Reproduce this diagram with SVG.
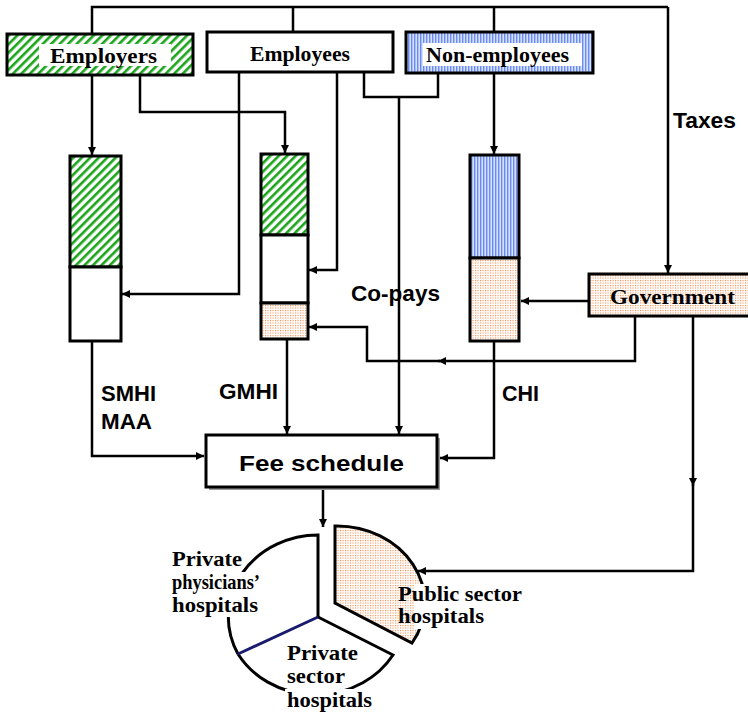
<svg xmlns="http://www.w3.org/2000/svg" width="748" height="712" viewBox="0 0 748 712">
<style>
.box{stroke:#000;stroke-width:3}
.conn{fill:none;stroke:#000;stroke-width:2.5}
.arr{marker-end:url(#ah)}
.serif{font-family:"Liberation Serif","Times New Roman",serif;font-weight:bold;font-size:22px;fill:#000}
.sans{font-family:"Liberation Sans",Arial,sans-serif;font-weight:bold;font-size:22px;fill:#000}
.pie{font-size:21px}
.bg{fill:#fff;stroke:none}
</style>
<defs>
<pattern id="hatch" patternUnits="userSpaceOnUse" width="6" height="6" patternTransform="rotate(45)">
<rect width="6" height="6" fill="#fff"/>
<rect width="2.6" height="6" fill="#1aa51a"/>
</pattern>
<pattern id="blue" patternUnits="userSpaceOnUse" width="3" height="3">
<rect width="3" height="3" fill="#d6e0ff"/>
<rect width="1.4" height="3" fill="#6a8cf0"/>
</pattern>
<pattern id="dots" patternUnits="userSpaceOnUse" width="2.5" height="2.5">
<rect width="2.5" height="2.5" fill="#fff"/>
<rect width="1.1" height="1.1" fill="#f08a4b"/>
</pattern>
<marker id="ah" viewBox="0 0 10 10" refX="10" refY="5" markerWidth="9" markerHeight="8" markerUnits="userSpaceOnUse" orient="auto">
<path d="M0,0 L10,5 L0,10 Z" fill="#000"/>
</marker>
</defs>
<rect width="748" height="712" fill="#fff"/>

<g id="connectors">
<path class="conn" d="M92,34 V7 H668"/>
<path class="conn" d="M293,7 V32"/>
<path class="conn" d="M494,7 V32"/>
<path class="conn arr" d="M668,7 V273"/>
<path class="conn arr" d="M92,75 V155"/>
<path class="conn arr" d="M140,75 V112 H285 V153"/>
<path class="conn arr" d="M239,72 V294 H122"/>
<path class="conn arr" d="M337,72 V270 H309"/>
<path class="conn" d="M364,72 V97 H438 V73"/>
<path class="conn arr" d="M399,97 V434"/>
<path class="conn arr" d="M494,73 V154"/>
<path class="conn arr" d="M589,301 H521"/>
<path class="conn arr" d="M635,316 V361 H438"/>
<path class="conn arr" d="M440,361 H367 V327 H309"/>
<path class="conn arr" d="M693,316 V486"/>
<path class="conn arr" d="M693,484 V571 H418"/>
<path class="conn arr" d="M92,341 V456 H204"/>
<path class="conn arr" d="M287,339 V434"/>
<path class="conn arr" d="M494,341 V458 H440"/>
<path class="conn arr" d="M323,489 V527"/>
</g>

<g id="employers">
<rect class="box" x="7" y="34" width="186" height="41" fill="url(#hatch)"/>
<rect class="bg" x="39" y="44" width="132" height="22"/>
<text class="serif" x="50" y="63" font-size="23" textLength="107" lengthAdjust="spacingAndGlyphs">Employers</text>
</g>

<g id="employees">
<rect class="box" x="207" y="32" width="186" height="40" fill="#fff"/>
<text class="serif" x="250" y="61" font-size="23" textLength="100" lengthAdjust="spacingAndGlyphs">Employees</text>
</g>

<g id="non-employees">
<rect class="box" x="406" y="32" width="187" height="41" fill="url(#blue)"/>
<rect class="bg" x="423" y="43" width="159" height="23"/>
<text class="serif" x="426" y="62" textLength="143" lengthAdjust="spacingAndGlyphs">Non-employees</text>
</g>

<g id="bar-smhi">
<rect class="box" x="70" y="156" width="51" height="111" fill="url(#hatch)"/>
<rect class="box" x="70" y="267" width="51" height="74" fill="#fff"/>
</g>

<g id="bar-gmhi">
<rect class="box" x="261" y="154" width="47" height="81" fill="url(#hatch)"/>
<rect class="box" x="261" y="235" width="47" height="68" fill="#fff"/>
<rect class="box" x="261" y="303" width="47" height="36" fill="url(#dots)"/>
</g>

<g id="bar-chi">
<rect class="box" x="470" y="155" width="49" height="103" fill="url(#blue)"/>
<rect class="box" x="470" y="258" width="49" height="83" fill="url(#dots)"/>
</g>

<g id="government">
<rect class="box" x="589" y="274" width="162" height="42" fill="url(#dots)"/>
<text class="serif" x="610" y="304" textLength="125" lengthAdjust="spacingAndGlyphs">Government</text>
</g>

<g id="labels">
<text class="sans" x="673" y="128" textLength="63" lengthAdjust="spacingAndGlyphs">Taxes</text>
<text class="sans" x="351" y="301" textLength="89" lengthAdjust="spacingAndGlyphs">Co-pays</text>
<text class="sans" x="101" y="401" textLength="55" lengthAdjust="spacingAndGlyphs">SMHI</text>
<text class="sans" x="101" y="429" textLength="51" lengthAdjust="spacingAndGlyphs">MAA</text>
<text class="sans" x="219" y="399" textLength="59" lengthAdjust="spacingAndGlyphs">GMHI</text>
<text class="sans" x="502" y="401" textLength="37" lengthAdjust="spacingAndGlyphs">CHI</text>
</g>

<g id="fee-schedule">
<rect x="209" y="438" width="231" height="52" fill="#9a9a9a"/>
<rect class="box" x="206" y="435" width="231" height="52" fill="#fff"/>
<text class="sans" x="239" y="471" font-size="24" textLength="165" lengthAdjust="spacingAndGlyphs">Fee schedule</text>
</g>

<g id="pie-private-physicians">
<path d="M318,617 V535 A90,82 0 0 0 238,654 Z" fill="#fff" stroke="none"/>
<path d="M318,617 V535 A90,82 0 0 0 238,654" fill="none" stroke="#000" stroke-width="3"/>
<rect class="bg" x="172" y="572" width="90" height="45"/>
<text class="serif pie" x="172" y="566" textLength="70" lengthAdjust="spacingAndGlyphs">Private</text>
<text class="serif pie" x="172" y="589" textLength="88" lengthAdjust="spacingAndGlyphs">physicians’</text>
<text class="serif pie" x="172" y="612" textLength="86" lengthAdjust="spacingAndGlyphs">hospitals</text>
</g>

<g id="pie-private-sector">
<path d="M318,617 L393,655 A90,82 0 0 1 238,654 Z" fill="#fff" stroke="none"/>
<path d="M318,617 L393,655 A90,82 0 0 1 238,654" fill="none" stroke="#000" stroke-width="3"/>
<path d="M318,617 L238,654" fill="none" stroke="#1a1a6e" stroke-width="3"/>
<rect class="bg" x="285" y="689" width="90" height="23"/>
<text class="serif pie" x="287" y="660" textLength="71" lengthAdjust="spacingAndGlyphs">Private</text>
<text class="serif pie" x="287" y="683" textLength="58" lengthAdjust="spacingAndGlyphs">sector</text>
<text class="serif pie" x="287" y="707" textLength="85" lengthAdjust="spacingAndGlyphs">hospitals</text>
</g>

<g id="pie-public-sector">
<path d="M335,603 V526 A88,77 0 0 1 412,643 Z" fill="url(#dots)" stroke="#000" stroke-width="3" stroke-linejoin="miter"/>
<rect class="bg" x="415" y="584" width="110" height="45"/>
<text class="serif pie" x="398" y="601" textLength="124" lengthAdjust="spacingAndGlyphs">Public sector</text>
<text class="serif pie" x="398" y="623" textLength="86" lengthAdjust="spacingAndGlyphs">hospitals</text>
</g>
</svg>
